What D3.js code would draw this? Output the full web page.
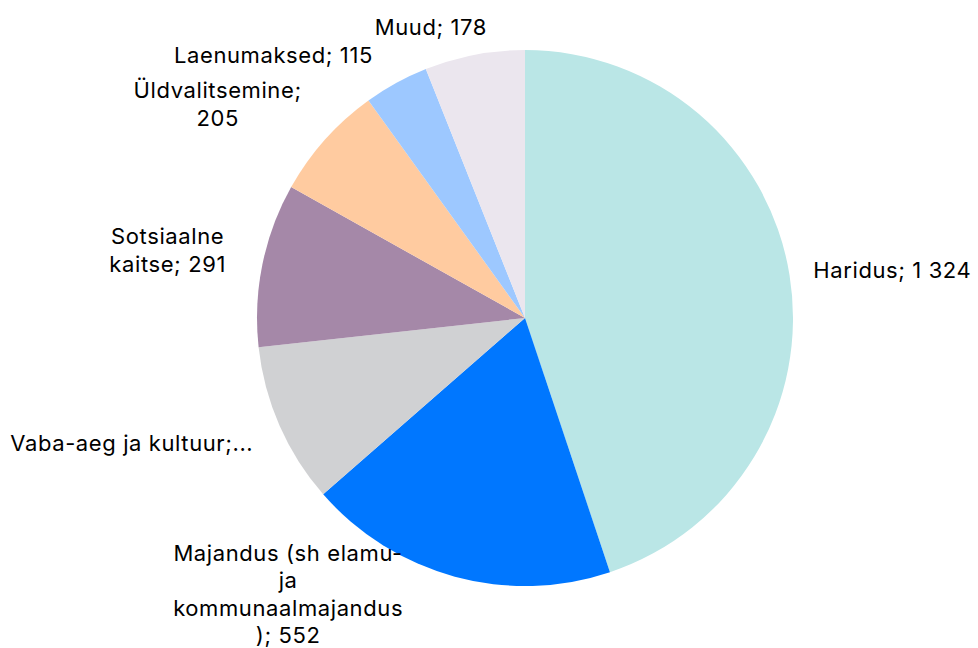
<!DOCTYPE html>
<html>
<head>
<meta charset="utf-8">
<script src="https://cdn.jsdelivr.net/npm/d3@7"></script>
<style>
  html, body { margin: 0; padding: 0; background: #fff; }
  svg { display: block; }
</style>
</head>
<body>
<div id="chart"></div>
<script>
// andmed
var categories = ['Haridus', 'Majandus', 'Vaba-aeg ja kultuur', 'Sotsiaalne kaitse', 'Üldvalitsemine', 'Laenumaksed', 'Muud'];
var values = [1324, 552, 286, 291, 205, 115, 178];
var colors = ['#bae6e6', '#0077ff', '#d0d1d3', '#a588a8', '#ffcba0', '#9dc8ff', '#ebe6ee'];
// sildid nagu pildil (murtud / lühendatud)
var labelLines = [
    ['Haridus; 1 324'],
    ['Majandus (sh elamu-', 'ja', 'kommunaalmajandus', '); 552'],
    ['Vaba-aeg ja kultuur;...'],
    ['Sotsiaalne', 'kaitse; 291'],
    ['Üldvalitsemine;', '205'],
    ['Laenumaksed; 115'],
    ['Muud; 178']
];
// siltide nihked (px) ankrupunktist
var labelNudge = [[89, -3], [-163, 4], [-135, 12], [-81, -12], [-97, -26], [-116, -16], [-41, -14]];

var width = 978, height = 648;
var cx = 525, cy = 318, radius = 268;
var fontSize = 22, lineH = 27.5, gap = 14;

var svg = d3.select('#chart').append('svg')
    .attr('width', width).attr('height', height);

var data = categories.map(function (c, i) {
    return { name: c, value: values[i], color: colors[i], lines: labelLines[i], nudge: labelNudge[i] };
});

var pie = d3.pie().sort(null).value(function (d) { return d.value; });
var arc = d3.arc().innerRadius(0).outerRadius(radius);
var labelArc = d3.arc().innerRadius(radius + gap).outerRadius(radius + gap);
var arcs = pie(data);

var g = svg.append('g').attr('transform', 'translate(' + cx + ',' + cy + ')');

// sektorid
g.selectAll('path.slice').data(arcs).enter().append('path')
    .attr('class', 'slice')
    .attr('d', arc)
    .attr('fill', function (d) { return d.data.color; });

// sildid
var labels = g.selectAll('text.lbl').data(arcs).enter().append('text')
    .attr('class', 'lbl')
    .attr('text-anchor', 'middle')
    .style('font-family', 'Inter, "Open Sans", sans-serif')
    .style('font-size', fontSize + 'px')
    .style('letter-spacing', '0.6px')
    .style('fill', '#000');

labels.each(function (d) {
    var t = d3.select(this);
    d.data.lines.forEach(function (line, i) {
        t.append('tspan').attr('x', 0).attr('dy', i === 0 ? 0 : lineH).text(line);
    });
});

labels.attr('transform', function (d) {
    var bb = this.getBBox();
    var p = labelArc.centroid(d);
    var tx = p[0] + d.data.nudge[0], ty = p[1] + d.data.nudge[1];
    var ccx = bb.x + bb.width / 2, ccy = bb.y + bb.height / 2;
    return 'translate(' + (tx - ccx) + ',' + (ty - ccy) + ')';
});
</script>
</body>
</html>
